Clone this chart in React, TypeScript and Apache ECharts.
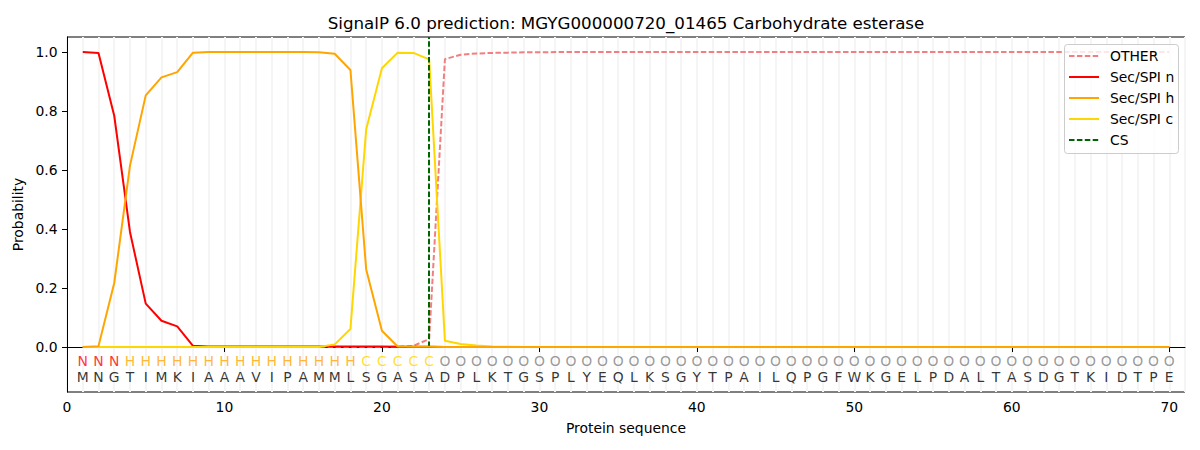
import React, { useEffect, useRef } from "react";
import * as echarts from "echarts";

const FONT = "DejaVu Sans";

const titleText = "SignalP 6.0 prediction: MGYG000000720_01465 Carbohydrate esterase";

const residues = "MNGTIMKIAAAVIPAMMLSGASADPLKTGSPLYEQLKSGYTPAILQPGFWKGELPDALTASDGTKIDTPE".split("");
const regionLabels = "NNNHHHHHHHHHHHHHHHCCCCCOOOOOOOOOOOOOOOOOOOOOOOOOOOOOOOOOOOOOOOOOOOOOOO".split("");

const xTicks = [0, 10, 20, 30, 40, 50, 60, 70];
const yTicks = [0, 0.2, 0.4, 0.6, 0.8, 1.0];

const otherProb = [
  0, 0, 0, 0, 0, 0, 0, 0, 0, 0, 0, 0, 0, 0, 0, 0, 0, 0, 0, 0,
  0.001, 0.004, 0.027, 0.976, 0.991, 0.995, 0.997, 0.998, 0.999, 0.999,
  1, 1, 1, 1, 1, 1, 1, 1, 1, 1, 1, 1, 1, 1, 1, 1, 1, 1, 1, 1,
  1, 1, 1, 1, 1, 1, 1, 1, 1, 1, 1, 1, 1, 1, 1, 1, 1, 1, 1, 1,
];

const secN = [
  1.0, 0.997, 0.784, 0.39, 0.147, 0.089, 0.07, 0.004, 0.002, 0.002,
  0.002, 0.002, 0.002, 0.002, 0.002, 0.002, 0.002, 0.002, 0.002, 0.002,
  0.001, 0.001, 0.001, 0, 0, 0, 0, 0, 0, 0,
  0, 0, 0, 0, 0, 0, 0, 0, 0, 0, 0, 0, 0, 0, 0, 0, 0, 0, 0, 0,
  0, 0, 0, 0, 0, 0, 0, 0, 0, 0, 0, 0, 0, 0, 0, 0, 0, 0, 0, 0,
];

const secH = [
  0.0, 0.003, 0.217, 0.615, 0.853, 0.914, 0.932, 0.998, 1.0, 1.0,
  1.0, 1.0, 1.0, 1.0, 1.0, 0.999, 0.994, 0.939, 0.263, 0.055,
  0.002, 0.001, 0.001, 0, 0, 0, 0, 0, 0, 0,
  0, 0, 0, 0, 0, 0, 0, 0, 0, 0, 0, 0, 0, 0, 0, 0, 0, 0, 0, 0,
  0, 0, 0, 0, 0, 0, 0, 0, 0, 0, 0, 0, 0, 0, 0, 0, 0, 0, 0, 0,
];

const secC = [
  0, 0, 0, 0, 0, 0, 0, 0, 0, 0, 0, 0, 0, 0, 0, 0,
  0.009, 0.061, 0.738, 0.945, 0.998, 0.997, 0.975, 0.021, 0.01, 0.005,
  0.002, 0.001,
  0, 0, 0, 0, 0, 0, 0, 0, 0, 0, 0, 0, 0, 0, 0, 0, 0, 0, 0, 0,
  0, 0, 0, 0, 0, 0, 0, 0, 0, 0, 0, 0, 0, 0, 0, 0, 0, 0, 0, 0, 0, 0,
];

const csPosition = 23;

const labelColors: Record<string, string> = {
  N: "#ff0000",
  H: "#ffa500",
  C: "#ffd700",
  O: "#808080",
};

const legendItems = [
  { name: "OTHER", color: "#f08080", dashed: true },
  { name: "Sec/SPI n", color: "#ff0000", dashed: false },
  { name: "Sec/SPI h", color: "#ffa500", dashed: false },
  { name: "Sec/SPI c", color: "#ffd700", dashed: false },
  { name: "CS", color: "#006400", dashed: true },
];

const DASH = [5.5, 2.4];

function toPairs(values: number[]) {
  return values.map((v, i) => [i + 1, v]);
}

export default function App() {
  const ref = useRef<HTMLDivElement>(null);
  useEffect(() => {
    document.body.style.margin = "0";
    const chart = echarts.init(ref.current!, null, { renderer: "svg" });

    const lineSeries = (name: string, values: number[], color: string, dashed: boolean, z: number) => ({
      type: "line",
      name,
      data: toPairs(values),
      xAxisIndex: 0,
      yAxisIndex: 0,
      symbol: "none",
      showSymbol: false,
      silent: true,
      z,
      lineStyle: { color, width: 2, type: dashed ? DASH : "solid" },
    });

    const gridLeft = 67;
    const gridRight = 1185;

    const legendTop = 56;
    const legendStep = 21;

    const option: any = {
      animation: false,
      backgroundColor: "#ffffff",
      textStyle: { fontFamily: FONT },
      grid: {
        left: gridLeft,
        right: 1200 - gridRight,
        top: 37,
        bottom: 450 - 392,
        show: true,
        borderColor: "#000000",
        borderWidth: 1,
        backgroundColor: "transparent",
      },
      xAxis: [
        {
          type: "value",
          min: 0,
          max: 71,
          name: "Protein sequence",
          nameLocation: "middle",
          nameGap: 29,
          nameTextStyle: { fontSize: 13.9, color: "#000", fontFamily: FONT },
          axisLine: { show: true, lineStyle: { color: "#000", width: 1 } },
          axisTick: { show: true, length: 5, customValues: xTicks, lineStyle: { color: "#000" } },
          axisLabel: {
            show: true,
            customValues: xTicks,
            margin: 8,
            fontSize: 13.9,
            color: "#000",
            fontFamily: FONT,
          },
          splitLine: { show: false },
        },
        {
          type: "value",
          min: 0,
          max: 71,
          interval: 1,
          position: "bottom",
          axisLine: { show: false },
          axisTick: { show: false },
          axisLabel: { show: false },
          splitLine: { show: true, lineStyle: { color: "#f5f5f5", width: 2 } },
        },
      ],
      yAxis: [
        {
          type: "value",
          min: -0.1525,
          max: 1.051,
          name: "Probability",
          nameLocation: "middle",
          nameRotate: 90,
          nameGap: 36,
          nameTextStyle: { fontSize: 13.9, color: "#000", fontFamily: FONT },
          axisLine: { show: true, lineStyle: { color: "#000", width: 1 } },
          axisTick: { show: true, length: 5, customValues: yTicks, lineStyle: { color: "#000" } },
          axisLabel: {
            show: true,
            customValues: yTicks,
            margin: 9.5,
            fontSize: 13.9,
            color: "#000",
            fontFamily: FONT,
            formatter: (v: number) => v.toFixed(1),
          },
          splitLine: { show: false },
        },
      ],
      series: [
        lineSeries("OTHER", otherProb, "#f08080", true, 2),
        lineSeries("Sec/SPI n", secN, "#ff0000", false, 3),
        lineSeries("Sec/SPI c", secC, "#ffd700", false, 4),
        lineSeries("Sec/SPI h", secH, "#ffa500", false, 5),
        {
          type: "line",
          name: "CS",
          data: [],
          silent: true,
          z: 6,
          markLine: {
            silent: true,
            symbol: ["none", "none"],
            label: { show: false },
            lineStyle: { color: "#006400", width: 2, type: DASH },
            data: [[{ coord: [csPosition, 0] }, { coord: [csPosition, 1.051] }]],
          },
        },
        {
          type: "scatter",
          name: "regions",
          symbolSize: 0,
          silent: true,
          z: 7,
          data: regionLabels.map((l, i) => ({
            value: [i + 1, -0.046],
            label: { formatter: l, color: labelColors[l] },
          })),
          label: {
            show: true,
            position: "inside",
            align: "center",
            verticalAlign: "middle",
            fontSize: 13.9,
            fontFamily: FONT,
          },
        },
        {
          type: "scatter",
          name: "residues",
          symbolSize: 0,
          silent: true,
          z: 7,
          data: residues.map((r, i) => ({
            value: [i + 1, -0.1007],
            label: { formatter: r },
          })),
          label: {
            show: true,
            position: "inside",
            align: "center",
            verticalAlign: "middle",
            fontSize: 13.9,
            color: "#000",
            fontFamily: FONT,
          },
        },
      ],
      graphic: [
        {
          type: "text",
          x: (gridLeft + gridRight) / 2,
          y: 23,
          z: 100,
          style: {
            text: titleText,
            fontSize: 16.7,
            fontFamily: FONT,
            fill: "#000",
            align: "center",
            verticalAlign: "middle",
          },
        },
        {
          type: "rect",
          z: 100,
          shape: { x: 1064.5, y: 44.5, width: 114, height: 109, r: 3 },
          style: { fill: "rgba(255,255,255,0.8)", stroke: "#cccccc", lineWidth: 1 },
        },
        ...legendItems.flatMap((item, i) => {
          const y = legendTop + i * legendStep;
          return [
            {
              type: "line",
              z: 101,
              shape: { x1: 1069, y1: y, x2: 1099, y2: y },
              style: {
                stroke: item.color,
                lineWidth: 2,
                lineDash: item.dashed ? DASH : null,
              },
            },
            {
              type: "text",
              z: 101,
              x: 1110,
              y,
              style: {
                text: item.name,
                fontSize: 13.9,
                fontFamily: FONT,
                fill: "#000",
                align: "left",
                verticalAlign: "middle",
              },
            },
          ];
        }),
      ],
    };

    chart.setOption(option);
    return () => chart.dispose();
  }, []);
  return <div ref={ref} style={{ width: 1200, height: 450 }} />;
}
